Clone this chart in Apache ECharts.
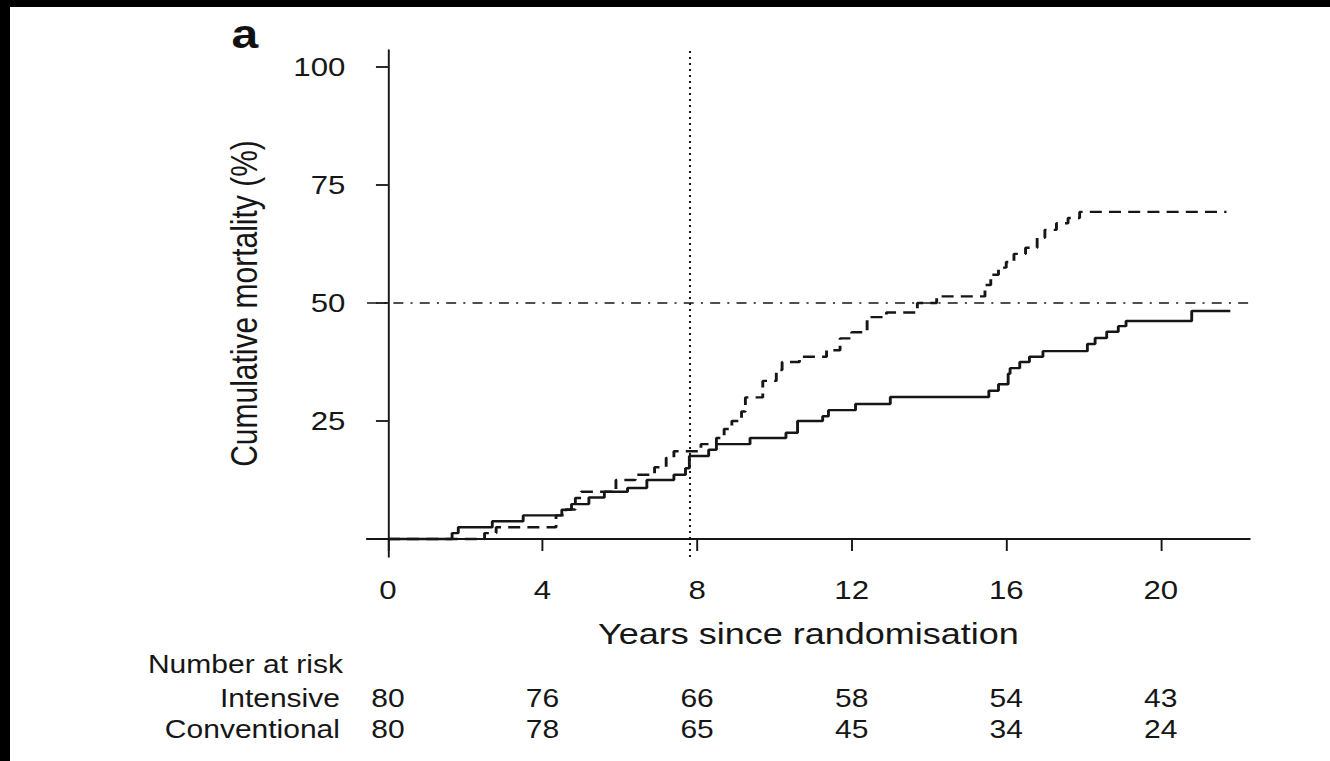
<!DOCTYPE html>
<html>
<head>
<meta charset="utf-8">
<title>Cumulative mortality</title>
<script src="https://cdn.jsdelivr.net/npm/echarts@6/dist/echarts.min.js"></script>
<style>
  html, body { margin: 0; padding: 0; background: #fff; width: 1330px; height: 761px; overflow: hidden; }
  /* chart is laid out at a narrower width and stretched horizontally */
  #chart { position: absolute; left: 0; top: 0; width: 1108.333px; height: 761px;
           transform: scaleX(1.2); transform-origin: 0 0; background: #fff; }
  .edge { position: absolute; background: #000; }
</style>
</head>
<body>
<div id="chart"></div>
<div class="edge" style="left:0;top:0;width:1330px;height:7px"></div>
<div class="edge" style="left:0;top:0;width:10px;height:761px"></div>
<script>
// Kaplan-Meier style cumulative mortality (%), event times in years
const intensiveYears = [0, 1.66, 1.82, 2.7, 3.5, 4.5, 4.75, 5.2, 5.6, 6.2, 6.7, 7.4, 7.7, 7.8, 8.3, 8.5, 9.37, 10.3, 10.6, 11.25, 11.4, 12.1, 13.0, 15.55, 15.8, 16.05, 16.1, 16.35, 16.6, 16.95, 18.1, 18.3, 18.6, 18.9, 19.1, 20.8, 21.8];
const intensiveMortality = [0, 1.25, 2.5, 3.75, 5.0, 6.2, 7.4, 8.8, 10.0, 10.8, 12.5, 13.6, 15.0, 17.6, 18.9, 20.1, 21.4, 22.5, 25.0, 26.0, 27.3, 28.6, 30.1, 31.4, 32.8, 35.0, 36.2, 37.5, 38.6, 39.8, 41.3, 42.6, 43.9, 45.1, 46.2, 48.3, 48.3];

const conventionalYears = [0, 2.5, 2.8, 4.35, 4.6, 4.85, 5.0, 5.9, 6.4, 6.9, 7.2, 7.4, 8.1, 8.5, 8.7, 8.9, 9.15, 9.25, 9.7, 10.05, 10.2, 10.65, 11.35, 11.7, 12.0, 12.4, 12.9, 13.7, 14.2, 15.45, 15.6, 15.8, 16.0, 16.2, 16.5, 16.8, 17.0, 17.3, 17.6, 17.9, 21.7];
const conventionalMortality = [0, 1.25, 2.5, 5.0, 6.25, 8.7, 10.0, 12.5, 13.6, 15.2, 17.2, 18.6, 20.1, 21.4, 23.3, 25.0, 27.0, 30.0, 33.5, 35.8, 37.5, 38.6, 40.0, 42.5, 43.8, 47.0, 48.0, 50.0, 51.4, 53.8, 56.0, 57.5, 58.7, 60.4, 61.7, 63.8, 65.5, 66.9, 68.0, 69.3, 69.3];

// axis ticks
const xTicks = [0, 4, 8, 12, 16, 20];
const yTicks = [0, 25, 50, 75, 100];
const yTickLabels = [25, 50, 75, 100];

// reference lines
const referenceYear = 7.8;
const referenceMortality = 50;

// number at risk table
const riskGroups = ['Intensive', 'Conventional'];
const riskYears = [0, 4, 8, 12, 16, 20];
const riskIntensive = [80, 76, 66, 58, 54, 43];
const riskConventional = [80, 78, 65, 45, 34, 24];

const ink = '#161616';
const font = 'Liberation Sans, Arial, Helvetica, sans-serif';

const pairs = (xs, ys) => xs.map((x, i) => [x, ys[i]]);
const riskData = [];
riskYears.forEach((yr, i) => {
  riskData.push([yr, riskGroups[0], riskIntensive[i]]);
  riskData.push([yr, riskGroups[1], riskConventional[i]]);
});

const xMin = -0.543, xMax = 22.3;

const chart = echarts.init(document.getElementById('chart'), null, { renderer: 'svg' });
chart.setOption({
  animation: false,
  backgroundColor: '#fff',
  textStyle: { fontFamily: font, color: ink },
  grid: [
    { left: 305.8, right: 66.6, top: 50, bottom: 204 },
    { left: 305.8, right: 66.6, top: 682.5, bottom: 16.5 }
  ],
  xAxis: [{
    gridIndex: 0, type: 'value', min: xMin, max: xMax,
    name: 'Years since randomisation', nameLocation: 'middle', nameGap: 62,
    nameTextStyle: { fontSize: 30, color: ink, fontFamily: font },
    axisLine: { lineStyle: { color: ink, width: 1.8 } },
    axisTick: { show: true, length: 12, inside: false, customValues: xTicks, lineStyle: { color: ink, width: 1.6 } },
    axisLabel: { customValues: xTicks, margin: 20, fontSize: 26, color: ink, fontFamily: font },
    splitLine: { show: false }
  }, {
    gridIndex: 1, type: 'value', min: xMin, max: xMax, show: false
  }],
  yAxis: [{
    gridIndex: 0, type: 'value', min: -3.81, max: 103.6,
    name: 'Cumulative mortality (%)', nameLocation: 'middle', nameGap: 87,
    nameTextStyle: { fontSize: 30, color: ink, fontFamily: font },
    axisLine: { show: true, lineStyle: { color: ink, width: 1.6 } },
    axisTick: { show: true, length: 10, inside: false, customValues: yTicks, lineStyle: { color: ink, width: 1.8 } },
    axisLabel: { customValues: yTickLabels, margin: 18, fontSize: 26, color: ink, fontFamily: font },
    splitLine: { show: false }
  }, {
    gridIndex: 1, type: 'category', data: riskGroups, inverse: true,
    axisLine: { show: false }, axisTick: { show: false }, splitLine: { show: false },
    axisLabel: { interval: 0, hideOverlap: false, margin: 22.5, fontSize: 25, color: ink, fontFamily: font, align: 'right' }
  }],
  graphic: [
    { type: 'text', left: 123.3, top: 652, style: { text: 'Number at risk', fontSize: 25, fill: ink, fontFamily: font } },
    { type: 'text', left: 193, top: 14, style: { text: 'a', fontSize: 40, fontWeight: 'bold', fill: '#111', fontFamily: font } }
  ],
  series: [{
    name: 'Intensive', type: 'line', xAxisIndex: 0, yAxisIndex: 0,
    step: 'end', symbol: 'none', data: pairs(intensiveYears, intensiveMortality),
    lineStyle: { color: ink, width: 2.4, type: 'solid' },
    markLine: {
      silent: true, symbol: ['none', 'none'], label: { show: false },
      data: [
        { xAxis: referenceYear, lineStyle: { color: ink, width: 1.7, type: [2, 4] } },
        { yAxis: referenceMortality, lineStyle: { color: ink, width: 1.7, type: [8.3, 6, 1.7, 6] } }
      ]
    }
  }, {
    name: 'Conventional', type: 'line', xAxisIndex: 0, yAxisIndex: 0,
    step: 'end', symbol: 'none', data: pairs(conventionalYears, conventionalMortality),
    lineStyle: { color: ink, width: 2.4, type: [10, 6] }
  }, {
    name: 'Number at risk', type: 'scatter', xAxisIndex: 1, yAxisIndex: 1,
    symbolSize: 0, data: riskData, itemStyle: { opacity: 1 },
    label: { show: true, position: 'inside', formatter: p => String(p.value[2]),
             fontSize: 25, color: ink, opacity: 1, fontFamily: font }
  }]
});
</script>
</body>
</html>
